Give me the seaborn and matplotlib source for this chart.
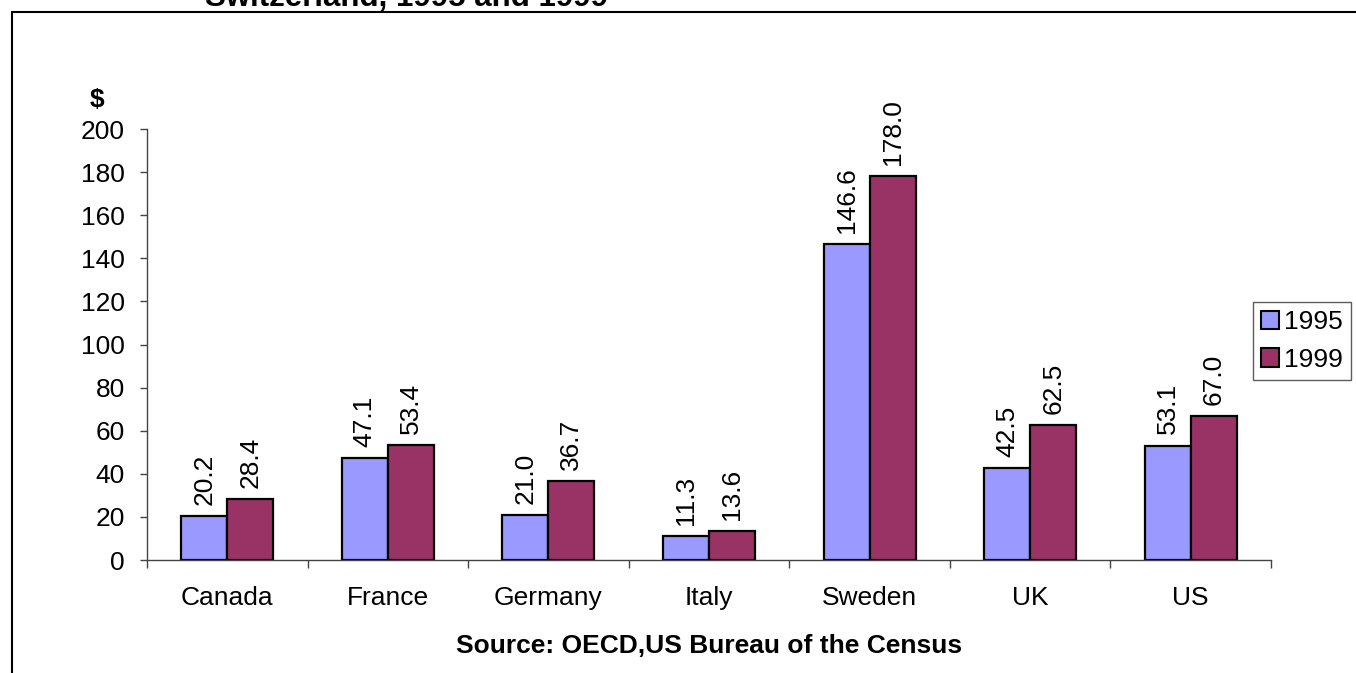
import pandas as pd
import matplotlib
matplotlib.use('Agg')
import matplotlib.pyplot as plt
import seaborn as sns
from matplotlib.lines import Line2D

# Chart data
countries = ['Canada', 'France', 'Germany', 'Italy', 'Sweden', 'UK', 'US']
years = ['1995', '1999']
values_1995 = [20.2, 47.1, 21.0, 11.3, 146.6, 42.5, 53.1]
values_1999 = [28.4, 53.4, 36.7, 13.6, 178.0, 62.5, 67.0]
y_ticks = list(range(0, 201, 20))

df = pd.DataFrame({
    'country': countries * 2,
    'year': [years[0]] * len(countries) + [years[1]] * len(countries),
    'value': values_1995 + values_1999,
})

sns.set_style('white')
plt.rcParams['font.family'] = ['Liberation Sans', 'DejaVu Sans']
plt.rcParams['text.color'] = 'black'
plt.rcParams['axes.labelcolor'] = 'black'
plt.rcParams['xtick.labelcolor'] = 'black'
plt.rcParams['ytick.labelcolor'] = 'black'

FS = 19
W, H = 1356, 673
fig = plt.figure(figsize=(W / 100, H / 100), dpi=100)
ax = fig.add_axes([147 / W, 1 - 560 / H, (1271 - 147) / W, (560 - 129) / H])

palette = {'1995': '#9999FF', '1999': '#993366'}
sns.barplot(data=df, x='country', y='value', hue='year', order=countries,
            hue_order=years, palette=palette, width=0.573, edgecolor='black',
            linewidth=1.6, saturation=1, ax=ax)

# value labels above each bar
for cont in ax.containers:
    ax.bar_label(cont, fmt='%.1f', rotation=90, padding=8, fontsize=FS,
                 color='black')

ax.set_xlim(-0.5, len(countries) - 0.5)
ax.set_ylim(0, 200)
ax.set_yticks(y_ticks)
ax.set_ylabel('')
ax.set_xlabel('Source: OECD,US Bureau of the Census', fontsize=FS,
              fontweight='bold', labelpad=17, color='black')

# axes look
for side in ['top', 'right']:
    ax.spines[side].set_visible(False)
for side in ['left', 'bottom']:
    ax.spines[side].set_color('#444444')
    ax.spines[side].set_linewidth(1)

ax.tick_params(axis='y', direction='out', length=5, width=1, color='#444444',
               pad=11, labelsize=FS, left=True, labelcolor='black')
ax.tick_params(axis='x', which='major', length=0, pad=19, labelsize=FS,
               labelcolor='black')
ax.set_xticks([i - 0.5 for i in range(len(countries) + 1)], minor=True)
ax.tick_params(axis='x', which='minor', direction='out', length=6, width=1,
               color='#444444', bottom=True)

# legend at the right
leg = ax.legend(loc='center', bbox_to_anchor=(1302 / W, 1 - 341 / H),
                bbox_transform=fig.transFigure, fontsize=FS, frameon=True,
                fancybox=False, handlelength=0.7, handleheight=0.7,
                handletextpad=0.2, labelspacing=0.5, borderpad=0.3,
                borderaxespad=0)
leg.get_frame().set_edgecolor('#333333')
leg.get_frame().set_linewidth(1)
for p in leg.get_patches():
    p.set_edgecolor('black')
    p.set_linewidth(1.5)
for t in leg.get_texts():
    t.set_color('black')

# '$' unit label and cut-off title (the reference shows it clipped at the top)
fig.text(97 / W, 1 - 100 / H, '$', fontsize=FS, fontweight='bold',
         ha='center', va='center')
fig.text(205 / W, 1 - 6 / H, 'Switzerland, 1995 and 1999', fontsize=22.5,
         fontweight='bold', ha='left', va='baseline')

# outer chart frame (top and left edges)
fig.add_artist(Line2D([12 / W, 1], [1 - 12 / H, 1 - 12 / H],
                      transform=fig.transFigure, color='black', linewidth=1.5))
fig.add_artist(Line2D([12 / W, 12 / W], [0, 1 - 12 / H],
                      transform=fig.transFigure, color='black', linewidth=1.5))

fig.savefig('out.png', dpi=100)
